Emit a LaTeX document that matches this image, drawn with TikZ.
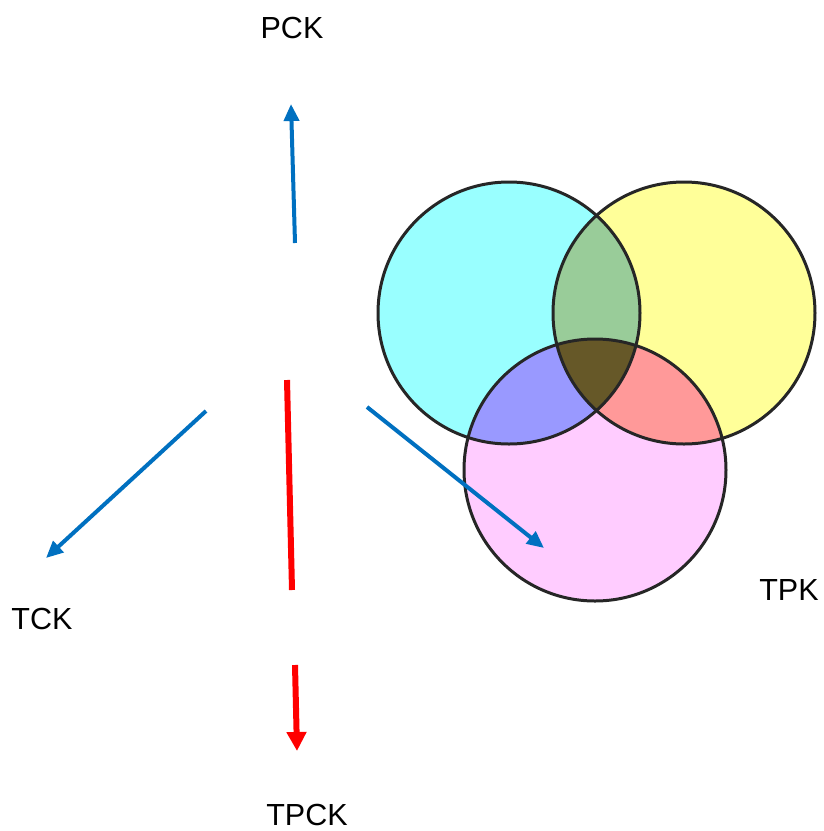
\documentclass[tikz,border=0pt]{standalone}
\usepackage{fontspec}
\setmainfont{Liberation Sans}
\usetikzlibrary{arrows.meta}

\definecolor{setT}{RGB}{153,255,255}
\definecolor{setP}{RGB}{255,255,153}
\definecolor{setK}{RGB}{255,204,255}
\definecolor{setTP}{RGB}{153,204,153}
\definecolor{setTK}{RGB}{153,153,255}
\definecolor{setPK}{RGB}{255,153,153}
\definecolor{setTPK}{RGB}{102,88,40}
\definecolor{arrowblue}{RGB}{0,112,192}

\begin{document}
\begin{tikzpicture}[x=1pt,y=-1pt,
    lbl/.style={font=\fontsize{30.5}{36}\selectfont, inner sep=0pt},
    blue arrow/.style={draw=arrowblue, line width=4pt, -{Triangle[length=17pt,width=15pt]}},
    red line/.style={draw=red, line width=6pt}]
    \useasboundingbox (0,0) rectangle (824,831);

    % Circle centres
    \coordinate (t) at (509,313);
    \coordinate (p) at (684,313);
    \coordinate (k) at (595,470);

    % Single sets
    \fill[setT] (t) circle[radius=131pt];
    \fill[setP] (p) circle[radius=131pt];
    \fill[setK] (k) circle[radius=131pt];

    % Pairwise overlaps
    \begin{scope}
        \clip (t) circle[radius=131pt];
        \fill[setTP] (p) circle[radius=131pt];
        \fill[setTK] (k) circle[radius=131pt];
    \end{scope}
    \begin{scope}
        \clip (p) circle[radius=131pt];
        \fill[setPK] (k) circle[radius=131pt];
    \end{scope}

    % Centre region
    \begin{scope}
        \clip (t) circle[radius=131pt];
        \clip (p) circle[radius=131pt];
        \fill[setTPK] (k) circle[radius=131pt];
    \end{scope}

    % Outlines
    \foreach \c in {t,p,k}
        \draw[line width=3pt, black!85] (\c) circle[radius=131pt];

    % Labels
    \node[lbl] (pck) at (292,28) {PCK};
    \node[lbl] (tck) at (42,619) {TCK};
    \node[lbl] (tpk) at (789,590) {TPK};
    \node[lbl] (tpck) at (307,815) {TPCK};

    % Arrows
    \coordinate (upS) at (295,243);
    \coordinate (upE) at (291,104);
    \coordinate (leftS) at (206,411);
    \coordinate (leftE) at (46,558);
    \coordinate (rightS) at (367,407);
    \coordinate (rightE) at (544,548);
    \coordinate (redS) at (287,380);
    \coordinate (redM) at (292,590);
    \coordinate (redN) at (295,665);
    \coordinate (redE) at (297,751);

    \draw[blue arrow] (upS) -- (upE);
    \draw[blue arrow] (leftS) -- (leftE);
    \draw[blue arrow] (rightS) -- (rightE);
    \draw[red line] (redS) -- (redM);
    \draw[red line, -{Triangle[length=19pt,width=19pt]}] (redN) -- (redE);
\end{tikzpicture}
\end{document}
